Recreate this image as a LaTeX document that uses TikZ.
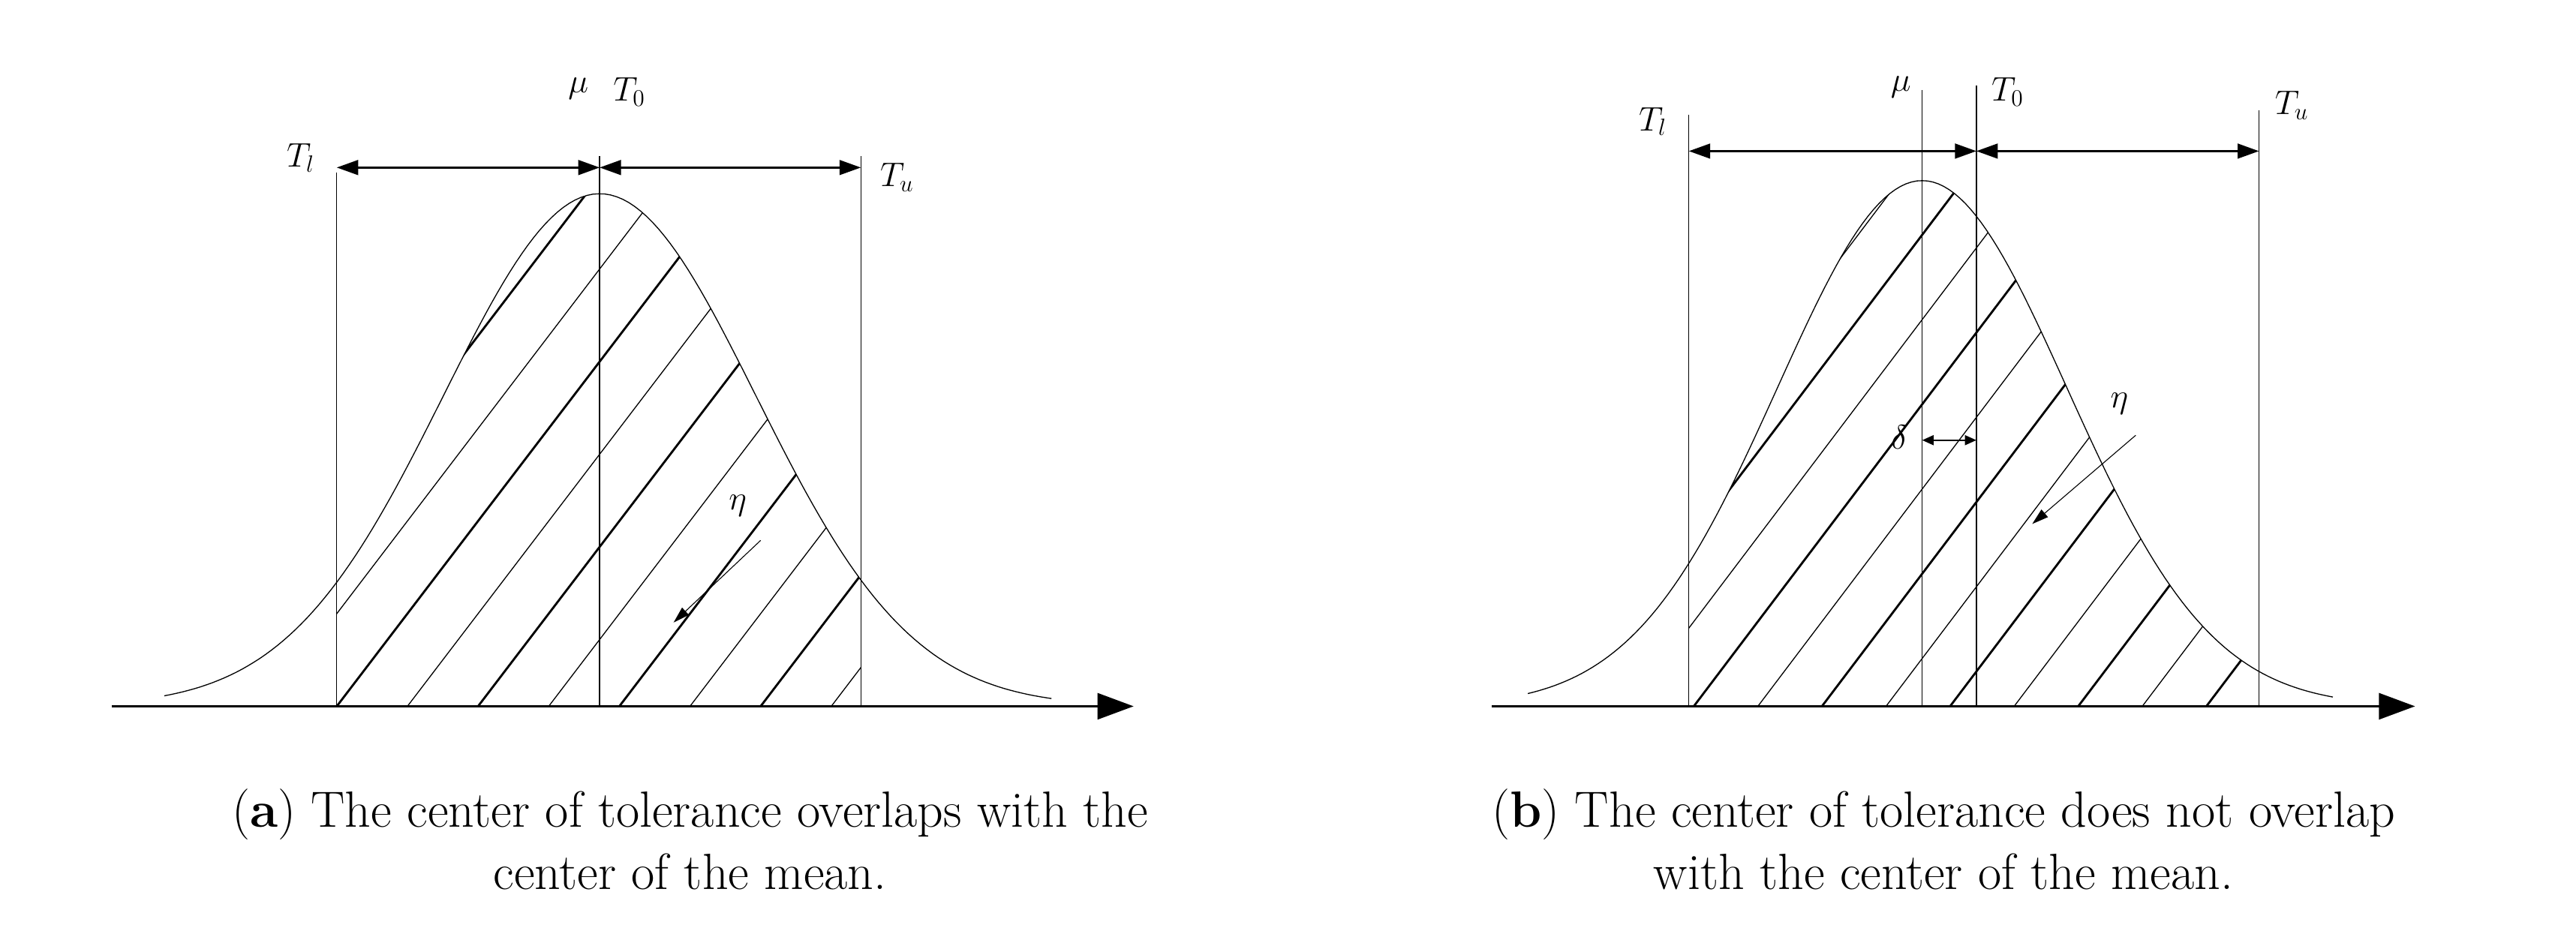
\documentclass[tikz,border=0pt]{standalone}
\usetikzlibrary{arrows.meta}
\begin{document}
\begin{tikzpicture}[x=1pt,y=1pt,
  thinl/.style={line width=0.6pt},
  ax/.style={line width=1.2pt,-{Triangle[length=22pt,width=16pt]}},
  dim/.style={line width=1.2pt,{Triangle[length=13pt,width=9pt]}-{Triangle[length=13pt,width=9pt]}},
  lab/.style={font=\fontsize{22}{26}\selectfont},
  captxt/.style={font=\fontsize{31}{38}\selectfont,align=center},
  hA/.style={line width=1.3pt},
  hB/.style={line width=0.6pt}]
\useasboundingbox (0,0) rectangle (1568,574);
% ===== panel (a) =====
\coordinate (a0) at (68,144); \coordinate (a1) at (690,144);
\draw[ax] (a0) -- (a1);
\coordinate (aLb) at (205,144); \coordinate (aLt) at (205,469);
\coordinate (aMb) at (365,144); \coordinate (aMt) at (365,479);
\coordinate (aUb) at (524,144); \coordinate (aUt) at (524,479);
\draw[thinl] (aLb)--(aLt) (aMb)--(aMt) (aUb)--(aUt);
\draw[thinl] plot[domain=100:640,samples=150] (\x,{144+312*exp(-0.5*((\x-365)/95)^2)});
\begin{scope}
\clip (205,144) -- plot[domain=205:524,samples=100] (\x,{144+312*exp(-0.5*((\x-365)/95)^2)}) -- (524,144) -- cycle;
\foreach \i in {-6,...,7}{
  \pgfmathsetmacro{\xx}{205+43*\i}
  \ifodd\i \draw[hB] (\xx,144) -- ++(305,400); \else \draw[hA] (\xx,144) -- ++(305,400); \fi}
\end{scope}
\coordinate (aA) at (205,472); \coordinate (aB) at (365,472); \coordinate (aC) at (524,472);
\draw[dim] (aA) -- (aB);
\draw[dim] (aB) -- (aC);
\node[lab] (aTl) at (183,478) {$T_l$};
\node[lab] (aTu) at (546,466) {$T_u$};
\node[lab] (amu) at (352,520) {$\mu$};
\node[lab] (aT0) at (383,518) {$T_0$};
\node[lab] (aeta) at (449,266) {$\eta$};
\coordinate (aes) at (463,245); \coordinate (aee) at (410,195);
\draw[line width=0.5pt,-{Triangle[length=10pt,width=6pt]}] (aes) -- (aee);
\node[captxt] (acap) at (420,63) {(\textbf{a}) The center of tolerance overlaps with the\\center of the mean.};
% ===== panel (b) =====
\coordinate (b0) at (908,144); \coordinate (b1) at (1470,144);
\draw[ax] (b0) -- (b1);
\coordinate (bLb) at (1028,144); \coordinate (bLt) at (1028,504);
\coordinate (bMb) at (1170,144); \coordinate (bMt) at (1170,519);
\coordinate (bTb) at (1203,144); \coordinate (bTt) at (1203,522);
\coordinate (bUb) at (1375,144); \coordinate (bUt) at (1375,507);
\draw[thinl] (bLb)--(bLt) (bMb)--(bMt) (bTb)--(bTt) (bUb)--(bUt);
\draw[thinl] plot[domain=930:1420,samples=150] (\x,{144+320*exp(-0.5*((\x-1170)/88)^2)});
\begin{scope}
\clip (1028,144) -- plot[domain=1028:1375,samples=100] (\x,{144+320*exp(-0.5*((\x-1170)/88)^2)}) -- (1375,144) -- cycle;
\foreach \i in {-8,...,9}{
  \pgfmathsetmacro{\xx}{1031+39*\i}
  \ifodd\i \draw[hB] (\xx,144) -- ++(310,410); \else \draw[hA] (\xx,144) -- ++(310,410); \fi}
\end{scope}
\coordinate (bA) at (1028,482); \coordinate (bB) at (1203,482); \coordinate (bC) at (1375,482);
\draw[dim] (bA) -- (bB);
\draw[dim] (bB) -- (bC);
\coordinate (bdl) at (1170,306); \coordinate (bdr) at (1203,306);
\draw[line width=1pt,{Triangle[length=7pt,width=6pt]}-{Triangle[length=7pt,width=6pt]}] (bdl) -- (bdr);
\node[lab] (bTl) at (1006,500) {$T_l$};
\node[lab] (bTu) at (1395,510) {$T_u$};
\node[lab] (bmu) at (1157,521) {$\mu$};
\node[lab] (bT0) at (1222,518) {$T_0$};
\node[lab] (bdel) at (1156,308) {$\delta$};
\node[lab] (beta) at (1290,328) {$\eta$};
\coordinate (bes) at (1300,309); \coordinate (bee) at (1237,255);
\draw[line width=0.5pt,-{Triangle[length=10pt,width=6pt]}] (bes) -- (bee);
\node[captxt] (bcap) at (1183,63) {(\textbf{b}) The center of tolerance does not overlap\\with the center of the mean.};
\end{tikzpicture}
\end{document}
